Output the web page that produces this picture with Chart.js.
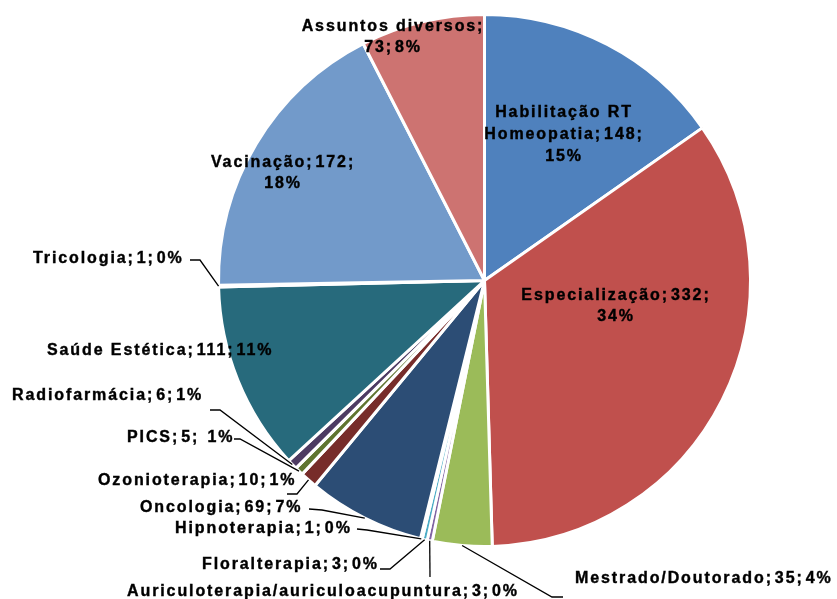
<!DOCTYPE html>
<html>
<head>
<meta charset="utf-8">
<script src="https://cdn.jsdelivr.net/npm/chart.js@4.4.1/dist/chart.umd.min.js"></script>
<style>
  html, body { margin: 0; padding: 0; background: #fff; }
  #wrap { width: 837px; height: 599px; }
</style>
</head>
<body>
<div id="wrap"><canvas id="pieChart" width="837" height="599"></canvas></div>
<script>
// Données du graphique
const categories = [
    'Habilitação RT Homeopatia', 'Especialização', 'Mestrado/Doutorado',
    'Auriculoterapia/auriculoacupuntura', 'Floralterapia', 'Hipnoterapia',
    'Oncologia', 'Ozonioterapia', 'PICS', 'Radiofarmácia',
    'Saúde Estética', 'Tricologia', 'Vacinação', 'Assuntos diversos'
];
const values = [148, 332, 35, 3, 3, 1, 69, 10, 5, 6, 111, 1, 172, 73];
const percents = [15, 34, 4, 0, 0, 0, 7, 1, 1, 1, 11, 0, 18, 8];

// Texte des étiquettes, ligne par ligne
const labelLines = [
    ['Habilitação RT', 'Homeopatia; 148;', '15%'],
    ['Especialização; 332;', '34%'],
    ['Mestrado/Doutorado; 35; 4%'],
    ['Auriculoterapia/auriculoacupuntura; 3; 0%'],
    ['Floralterapia; 3; 0%'],
    ['Hipnoterapia; 1; 0%'],
    ['Oncologia; 69; 7%'],
    ['Ozonioterapia; 10; 1%'],
    ['PICS; 5;  1%'],
    ['Radiofarmácia; 6; 1%'],
    ['Saúde Estética; 111; 11%'],
    ['Tricologia; 1; 0%'],
    ['Vacinação; 172;', '18%'],
    ['Assuntos diversos;', '73; 8%']
];

const colors = [
    '#4F81BD', '#C0504D', '#9BBB59', '#8064A2', '#4BACC6', '#F79646',
    '#2C4D75', '#772C2A', '#5F7530', '#4D3B62', '#276A7C', '#B65708',
    '#729ACA', '#CD7371'
];

// Placement des étiquettes (x, ligne de base, alignement, trait de rappel)
const labelLayout = [
    { x: 563, y: 117, align: 'center', lh: 22 },
    { x: 615, y: 300, align: 'center', lh: 21 },
    { x: 575, y: 583, align: 'left', leader: [[563, 597], [552, 597]] },
    { x: 127, y: 596, align: 'left', leader: [[430, 577]] },
    { x: 202, y: 569, align: 'left', leader: [[380, 569], [390, 569]] },
    { x: 175, y: 533, align: 'left', leader: [[357, 529], [367, 530]] },
    { x: 140, y: 512, align: 'left', leader: [[309, 509], [322, 510]] },
    { x: 98, y: 485, align: 'left', leader: [[287, 494], [297, 494]] },
    { x: 127, y: 442, align: 'left', leader: [[234, 439], [240, 439]] },
    { x: 12, y: 400, align: 'left', leader: [[210, 410], [220, 410]] },
    { x: 47, y: 355, align: 'left' },
    { x: 33, y: 263, align: 'left', leader: [[190, 260], [200, 260]] },
    { x: 282, y: 167, align: 'center', lh: 21 },
    { x: 392, y: 31, align: 'center', lh: 21 }
];

// Écrit une ligne en resserrant l'espace après chaque point-virgule (rendu Excel)
function drawTightLine(ctx, text, x, y, align) {
    const gap = 2;
    const parts = text.split('; ');
    const pieces = parts.map((p, k) => (k < parts.length - 1 ? p + ';' : p));
    const widths = pieces.map(p => ctx.measureText(p).width);
    const total = widths.reduce((a, b) => a + b, 0) + gap * (pieces.length - 1);
    let cx = align === 'center' ? x - total / 2 + 1 : x;
    ctx.textAlign = 'left';
    pieces.forEach((p, k) => {
        ctx.fillText(p, cx, y);
        ctx.strokeText(p, cx, y);
        cx += widths[k] + gap;
    });
}

// Plugin pour dessiner les étiquettes et les traits de rappel
const labelPlugin = {
    id: 'sliceLabels',
    afterDatasetsDraw(chart) {
        const ctx = chart.ctx;
        const arcs = chart.getDatasetMeta(0).data;
        ctx.save();
        ctx.font = 'bold 16px "Liberation Sans", Arial, sans-serif';
        ctx.letterSpacing = '1.9px';
        ctx.fillStyle = '#000';
        ctx.strokeStyle = '#000';
        ctx.textBaseline = 'alphabetic';

        arcs.forEach((arc, i) => {
            const pos = labelLayout[i];
            const lines = labelLines[i];

            if (pos.leader) {
                const p = arc.getProps(['x', 'y', 'startAngle', 'endAngle', 'outerRadius'], true);
                const mid = (p.startAngle + p.endAngle) / 2;
                const ex = p.x + Math.cos(mid) * p.outerRadius;
                const ey = p.y + Math.sin(mid) * p.outerRadius;
                ctx.lineWidth = 1.3;
                ctx.beginPath();
                ctx.moveTo(pos.leader[0][0], pos.leader[0][1]);
                for (let k = 1; k < pos.leader.length; k++) {
                    ctx.lineTo(pos.leader[k][0], pos.leader[k][1]);
                }
                ctx.lineTo(ex, ey);
                ctx.stroke();
            }

            ctx.lineWidth = 0.4;
            lines.forEach((line, j) => {
                drawTightLine(ctx, line, pos.x, pos.y + j * (pos.lh || 22), pos.align);
            });
        });
        ctx.restore();
    }
};

new Chart(document.getElementById('pieChart').getContext('2d'), {
    type: 'pie',
    data: {
        labels: categories,
        datasets: [{
            data: values,
            backgroundColor: colors,
            borderColor: '#ffffff',
            borderWidth: 3
        }]
    },
    options: {
        responsive: false,
        animation: false,
        layout: { padding: { top: 13, bottom: 51, left: 217, right: 85 } },
        plugins: {
            legend: { display: false },
            tooltip: { enabled: false }
        }
    },
    plugins: [labelPlugin]
});
</script>
</body>
</html>
